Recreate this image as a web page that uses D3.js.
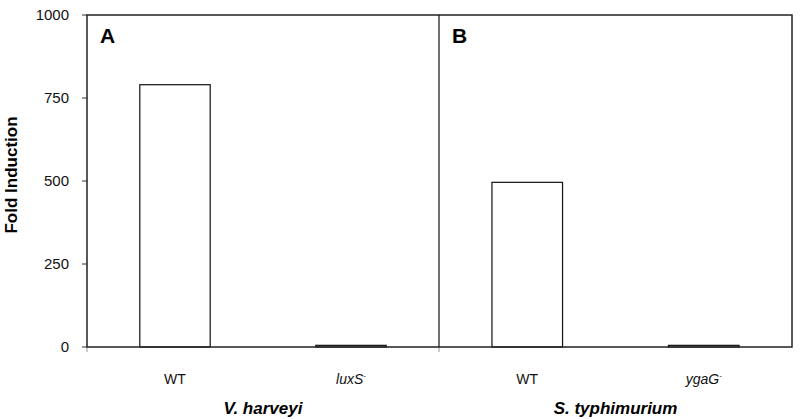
<!DOCTYPE html>
<html><head><meta charset="utf-8">
<script src="https://cdn.jsdelivr.net/npm/d3@7"></script>
<style>body{margin:0;background:#fff}svg{display:block;font-family:"Liberation Sans",Arial,sans-serif}</style>
</head><body><svg id="c" width="800" height="419"></svg>
<script>
const panels = ["A", "B"];
const species = ["V. harveyi", "S. typhimurium"];
const categoriesA = ["WT", "luxS"];
const categoriesB = ["WT", "ygaG"];
const valuesA = [790, 5];
const valuesB = [496, 5];
const yTicks = [0, 250, 500, 750, 1000];

const svg = d3.select("#c");
const L = 87, R = 792, T = 15, B = 347, D = 439;
const y = d3.scaleLinear().domain([0, 1000]).range([B, T]);

// y axis ticks
const ya = svg.append("g");
yTicks.forEach(t => {
  ya.append("line").attr("x1", 82).attr("x2", L).attr("y1", y(t)).attr("y2", y(t)).attr("stroke", "#333").attr("stroke-width", 1);
  ya.append("text").attr("x", 69).attr("y", y(t)).attr("dy", "0.35em").attr("text-anchor", "end")
    .attr("font-size", 15).attr("fill", "#111").text(t);
});
svg.append("text").attr("transform", `translate(17,175) rotate(-90)`).attr("text-anchor", "middle")
  .attr("font-size", 17).attr("font-weight", "bold").text("Fold Induction");

const panelDefs = [
  {x0: L, x1: D, cats: categoriesA, vals: valuesA, label: panels[0], sp: species[0]},
  {x0: D, x1: R, cats: categoriesB, vals: valuesB, label: panels[1], sp: species[1]}
];
panelDefs.forEach(p => {
  const x = d3.scaleBand().domain(p.cats).range([p.x0, p.x1]).paddingInner(0.6).paddingOuter(0.3);
  p.cats.forEach((c, i) => {
    const h = Math.max(1.5, y(0) - y(p.vals[i]));
    svg.append("rect").attr("x", x(c)).attr("y", y(0) - h).attr("width", x.bandwidth()).attr("height", h)
      .attr("fill", "#fff").attr("stroke", "#111").attr("stroke-width", 1.2);
    const cx = x(c) + x.bandwidth() / 2;
    const t = svg.append("text").attr("x", cx).attr("y", 384).attr("text-anchor", "middle").attr("font-size", 14).attr("fill", "#111");
    if (c === "WT") t.text(c);
    else { t.append("tspan").attr("font-style", "italic").text(c); t.append("tspan").attr("font-size", 8).attr("dy", -6).text("-"); }
  });
  svg.append("text").attr("x", p.x0 + 13).attr("y", 43).attr("font-size", 21).attr("font-weight", "bold").text(p.label);
  svg.append("text").attr("x", (p.x0 + p.x1) / 2).attr("y", 414).attr("text-anchor", "middle")
    .attr("font-size", 17).attr("font-weight", "bold").attr("font-style", "italic").text(p.sp);
  svg.append("line").attr("x1", p.x0).attr("x2", p.x0).attr("y1", B).attr("y2", B + 5).attr("stroke", "#999");
});

// frame
svg.append("rect").attr("x", L).attr("y", T).attr("width", R - L).attr("height", B - T)
  .attr("fill", "none").attr("stroke", "#222").attr("stroke-width", 1.5);
svg.append("line").attr("x1", D).attr("x2", D).attr("y1", T).attr("y2", B).attr("stroke", "#111").attr("stroke-width", 1.2);
</script></body></html>
